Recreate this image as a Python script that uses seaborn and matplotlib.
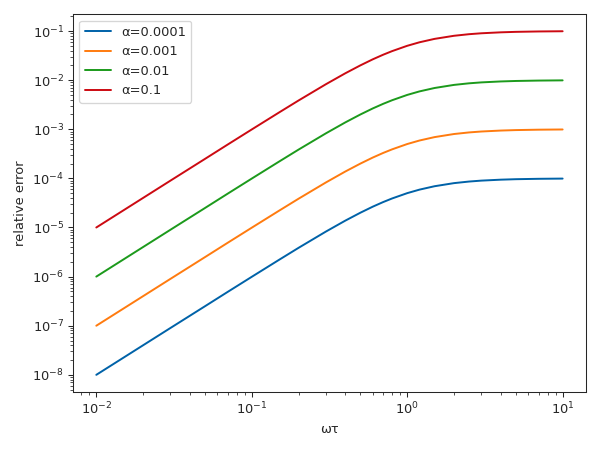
import matplotlib
matplotlib.use("Agg")
from matplotlib import pyplot as plt
import pandas as pd
import seaborn as sns

# omega*tau sample points
wt = [0.01, 0.02, 0.03, 0.05, 0.07, 0.1, 0.15, 0.2, 0.3, 0.4, 0.5, 0.6,
      0.7, 0.8, 1.0, 1.2, 1.5, 2.0, 2.5, 3.0, 4.0, 5.0, 7.0, 10.0]

err_0001 = [1.0e-8, 4.0e-8, 9.0e-8, 2.49e-7, 4.88e-7, 9.9e-7, 2.2e-6, 3.85e-6,
            8.26e-6, 1.38e-5, 2.0e-5, 2.65e-5, 3.29e-5, 3.9e-5, 5.0e-5, 5.9e-5,
            6.92e-5, 8.0e-5, 8.62e-5, 9.0e-5, 9.41e-5, 9.62e-5, 9.8e-5, 9.9e-5]
err_001 = [1.0e-7, 4.0e-7, 9.0e-7, 2.49e-6, 4.88e-6, 9.9e-6, 2.2e-5, 3.85e-5,
           8.26e-5, 1.38e-4, 2.0e-4, 2.65e-4, 3.29e-4, 3.9e-4, 5.0e-4, 5.9e-4,
           6.92e-4, 8.0e-4, 8.62e-4, 9.0e-4, 9.41e-4, 9.62e-4, 9.8e-4, 9.9e-4]
err_01 = [1.0e-6, 4.0e-6, 9.0e-6, 2.49e-5, 4.88e-5, 9.9e-5, 2.2e-4, 3.85e-4,
          8.26e-4, 1.38e-3, 2.0e-3, 2.65e-3, 3.29e-3, 3.9e-3, 5.0e-3, 5.9e-3,
          6.92e-3, 8.0e-3, 8.62e-3, 9.0e-3, 9.41e-3, 9.62e-3, 9.8e-3, 9.9e-3]
err_1 = [1.0e-5, 4.0e-5, 9.0e-5, 2.49e-4, 4.88e-4, 9.9e-4, 2.2e-3, 3.85e-3,
         8.26e-3, 1.38e-2, 2.0e-2, 2.65e-2, 3.29e-2, 3.9e-2, 5.0e-2, 5.9e-2,
         6.92e-2, 8.0e-2, 8.62e-2, 9.0e-2, 9.41e-2, 9.62e-2, 9.8e-2, 9.9e-2]

labels = ["α=0.0001", "α=0.001", "α=0.01", "α=0.1"]
colors = ["#0062a8", "#ff7b0f", "#1c9a1c", "#cc0a12"]

rows = []
for lab, ys in zip(labels, [err_0001, err_001, err_01, err_1]):
    for x, y in zip(wt, ys):
        rows.append({"wt": x, "err": y, "alpha": lab})
df = pd.DataFrame(rows)

sns.set_style("ticks")
plt.rcParams['font.family'] = ['DejaVu Sans']

f, ax = plt.subplots(figsize=(6.4, 4.8), dpi=93.75)
sns.lineplot(data=df, x="wt", y="err", hue="alpha", hue_order=labels,
             palette=colors, linewidth=1.5, ax=ax)
ax.set_xscale("log")
ax.set_yscale("log")
ax.set_xlabel("ωτ")
ax.set_ylabel("relative error")
ax.legend(loc="upper left")
f.tight_layout()
f.savefig("out.png", dpi=93.75)
